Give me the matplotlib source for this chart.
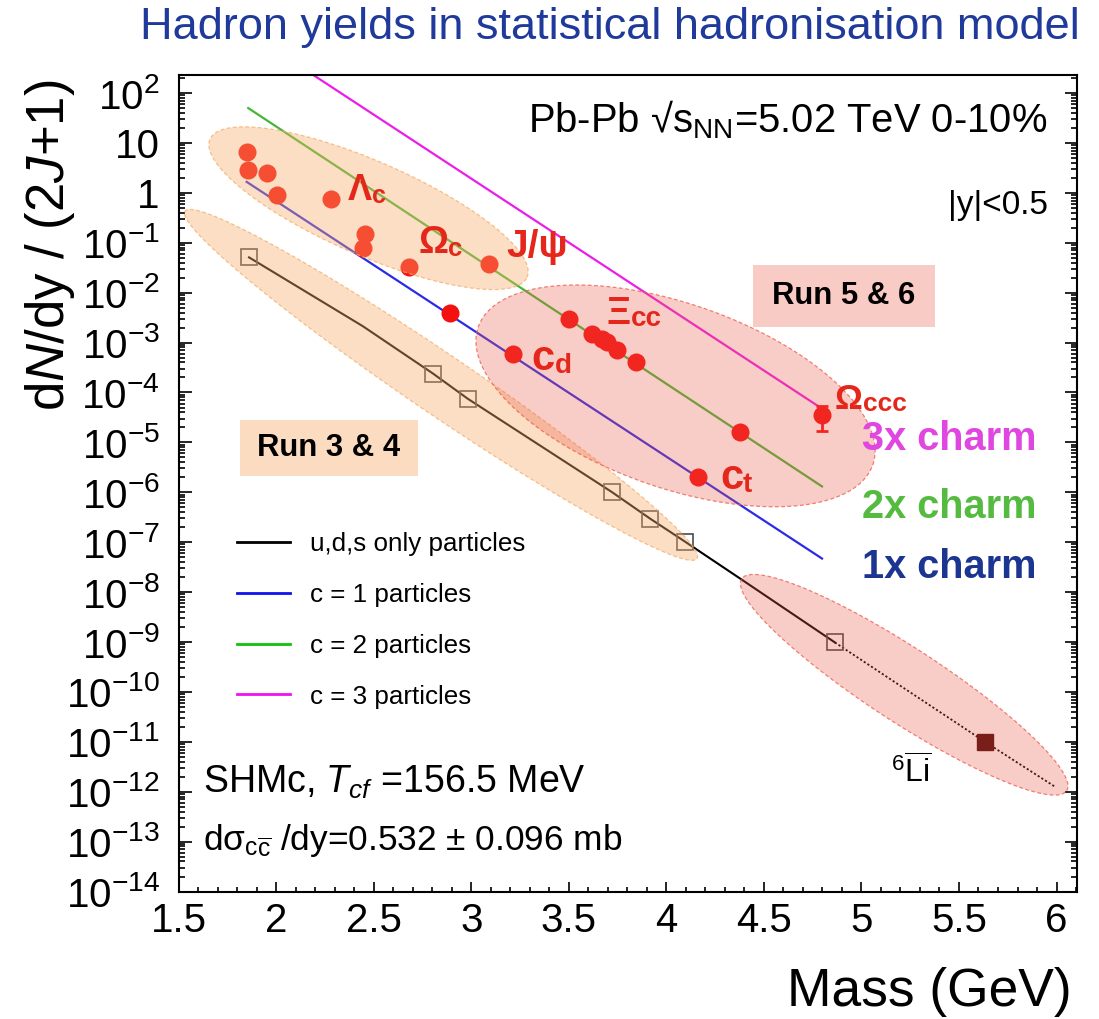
import numpy as np
import matplotlib
matplotlib.use("Agg")
import matplotlib.pyplot as plt
from matplotlib.colors import to_rgba
from matplotlib.lines import Line2D
from matplotlib.patches import Rectangle
from matplotlib.ticker import LogLocator, FixedLocator, MultipleLocator, FuncFormatter, NullFormatter

plt.rcParams["font.family"] = ["Liberation Sans", "DejaVu Sans"]
plt.rcParams["mathtext.fontset"] = "custom"
plt.rcParams["mathtext.rm"] = "Liberation Sans"
plt.rcParams["mathtext.it"] = "Liberation Sans:italic"
plt.rcParams["mathtext.bf"] = "Liberation Sans:bold"

# ── Data: charm hadrons (SHMc, Pb-Pb 5.02 TeV, 0-10%) ─────────────────────────
# dots sitting in the Run 3&4 region
run34_mass  = [1.849, 1.857, 1.955, 2.006, 2.281, 2.457, 2.444, 2.682, 3.093]
run34_yield = [6.6, 2.9, 2.45, 0.90, 0.74, 0.147, 0.079, 0.032, 0.038]
# dots sitting in the Run 5&6 region (and the one in between)
run56_mass  = [2.891, 3.216, 3.503, 3.617, 3.669, 3.694, 3.745, 3.844, 4.164, 4.377]
run56_yield = [3.95e-3, 6.0e-4, 3.0e-3, 1.51e-3, 1.2e-3, 1.03e-3, 7.0e-4, 4.1e-4, 2.07e-6, 1.61e-5]
omega_ccc_mass, omega_ccc_yield, omega_ccc_err = 4.796, 3.5e-5, 1.8e-5

# light-flavour (u,d,s) hadrons and nuclei
uds_mass  = [1.861, 2.805, 2.982, 3.721, 3.916, 4.095, 4.864]
uds_yield = [0.051, 2.38e-4, 7.5e-5, 1.01e-6, 2.98e-7, 1.03e-7, 9.8e-10]
li6_mass, li6_yield = 5.633, 1.0e-11

# model curves
uds_curve_mass  = [1.861, 2.445, 2.805, 2.982, 3.721, 3.916, 4.095, 4.378, 4.864]
uds_curve_yield = [0.051, 2.12e-3, 2.38e-4, 7.5e-5, 1.01e-6, 2.98e-7, 1.03e-7, 1.87e-8, 9.8e-10]
uds_extra_mass  = [4.864, 5.633, 5.992]
uds_extra_yield = [9.8e-10, 1.0e-11, 1.26e-12]
c1_mass, c1_yield = [1.849, 4.798], [1.66, 4.7e-8]
c2_mass, c2_yield = [1.857, 4.798], [50.0, 1.31e-6]
c3_mass, c3_yield = [2.15, 4.796], [292.0, 4.8e-5]

# measurable regions: long-axis tips (mass, yield) and half width in px
regions = [
    ((1.533, 0.43), (4.157, 4.7e-8), 30, "#f5ad69", 0.40),
    ((1.661, 11.9), (3.286, 0.0204), 47, "#f5ad69", 0.40),
    ((3.036, 2.06e-3), (5.058, 3.55e-6), 92, "#ec5a48", 0.30),
    ((4.386, 1.84e-8), (6.052, 1.05e-12), 37, "#ec5a48", 0.30),
]

RED = "#f51010"
LBL = "#e5261a"
BLUE, GREEN, MAGENTA = "#2b2be6", "#44b834", "#ea1ee8"

fig = plt.figure(figsize=(10.99, 10.19), dpi=100)
ax = fig.add_axes([0.1625, 0.1251, 0.8175, 0.8013])
ax.set_yscale("log")
ax.set_xlim(1.5, 6.105)
ax.set_ylim(1e-14, 230)


def blob(ax, tip_a, tip_b, half_w, face, alpha):
    """Shaded ellipse whose long axis joins two (mass, yield) points."""
    pa, pb = ax.transData.transform([tip_a, tip_b])
    c, u = (pa + pb) / 2, (pb - pa) / 2
    n = np.array([-u[1], u[0]]) / np.hypot(*u) * half_w
    t = np.linspace(0, 2 * np.pi, 300)
    ring = c + np.outer(np.cos(t), u) + np.outer(np.sin(t), n)
    m, y = ax.transData.inverted().transform(ring).T
    ax.fill(m, y, facecolor=to_rgba(face, alpha), edgecolor=to_rgba(face, 0.75),
            linestyle=(0, (3, 2)), linewidth=0.9, zorder=4)


def hadron_label(x, y, head, tail, size, tail_size):
    t = ax.text(x, y, head, color=LBL, fontsize=size, fontweight="bold", zorder=6)
    ax.annotate(tail, xy=(1, 0), xycoords=t, color=LBL, fontsize=tail_size,
                fontweight="bold", va="bottom", ha="left", zorder=6)


# curves
ax.plot(uds_curve_mass, uds_curve_yield, color="black", lw=1.5, zorder=2)
ax.plot(uds_extra_mass, uds_extra_yield, color="black", lw=1.3, ls=(0, (1.2, 1.2)), zorder=2)
ax.plot(c1_mass, c1_yield, color=BLUE, lw=1.6, zorder=2)
ax.plot(c2_mass, c2_yield, color=GREEN, lw=1.6, zorder=2)
ax.plot(c3_mass, c3_yield, color=MAGENTA, lw=1.6, zorder=2)

# points
ax.plot(run34_mass, run34_yield, "o", color=RED, ms=13, mec="none", zorder=3)
ax.plot(run56_mass, run56_yield, "o", color=RED, ms=13, mec="none", zorder=3)
ax.errorbar([omega_ccc_mass], [omega_ccc_yield], yerr=[[omega_ccc_err], [omega_ccc_err]],
            fmt="o", color=RED, ms=13, mec="none", elinewidth=2, capsize=4, capthick=2, zorder=3)
ax.plot(uds_mass, uds_yield, "s", ms=12, mfc="none", mec="#4a4a4a", mew=1.2, zorder=3)
ax.plot([li6_mass], [li6_yield], "s", ms=12, color="#4a0505", zorder=3)

for tip_a, tip_b, hw, face, alpha in regions:
    blob(ax, tip_a, tip_b, hw, face, alpha)

# Run boxes
ax.add_patch(Rectangle((0.0683, 0.5089), 0.1982, 0.0686, transform=ax.transAxes,
                       facecolor="#fbdcc1", edgecolor="none", zorder=1))
ax.text(0.1674, 0.5432, "Run 3 & 4", transform=ax.transAxes, ha="center", va="center",
        fontsize=22.4, fontweight="bold", zorder=6)
ax.add_patch(Rectangle((0.6392, 0.6914), 0.2026, 0.0759, transform=ax.transAxes,
                       facecolor="#f9cbc5", edgecolor="none", zorder=1))
ax.text(0.7405, 0.7293, "Run 5 & 6", transform=ax.transAxes, ha="center", va="center",
        fontsize=22.4, fontweight="bold", zorder=6)

# hadron names
hadron_label(2.368, 0.71, "Λ", "c", 26, 18)
hadron_label(2.729, 0.061, "Ω", "c", 27, 18.5)
ax.text(3.182, 0.051, "J/ψ", color=LBL, fontsize=28, fontweight="bold", zorder=6)
hadron_label(3.694, 2.4e-3, "Ξ", "cc", 27, 20)
hadron_label(3.310, 2.77e-4, "c", "d", 30, 20)
hadron_label(4.275, 1.17e-6, "c", "t", 30, 20)
hadron_label(4.864, 4.7e-5, "Ω", "ccc", 25, 19)

# charm multiplicity tags
ax.text(0.7607, 0.5407, "3x charm", transform=ax.transAxes, color="#e046e0",
        fontsize=28.6, fontweight="bold", zorder=6)
ax.text(0.7607, 0.4571, "2x charm", transform=ax.transAxes, color="#55bb40",
        fontsize=28.6, fontweight="bold", zorder=6)
ax.text(0.7607, 0.3836, "1x charm", transform=ax.transAxes, color="#1b3590",
        fontsize=28.6, fontweight="bold", zorder=6)

ax.text(0.389, 0.9302, r"Pb-Pb √s$_\mathregular{NN}$=5.02 TeV 0-10%", transform=ax.transAxes,
        fontsize=28.8, zorder=6)
ax.text(0.8564, 0.8298, "|y|<0.5", transform=ax.transAxes, fontsize=24, zorder=6)
ax.text(0.0272, 0.1206, r"SHMc, $\mathit{T}_{\mathit{cf}}$ =156.5 MeV", transform=ax.transAxes,
        fontsize=27, zorder=6)
ax.text(0.0272, 0.0508, r"dσ$_{\mathregular{c}\overline{\mathregular{c}}}$ /dy=0.532 ± 0.096 mb",
        transform=ax.transAxes, fontsize=25.4, zorder=6)
ax.text(0.7935, 0.1329, r"$^{6}\overline{\mathregular{Li}}$", transform=ax.transAxes,
        fontsize=23, zorder=6)

# legend
handles = [Line2D([], [], color="black", lw=2), Line2D([], [], color="#1010f0", lw=2),
           Line2D([], [], color="#10c010", lw=2), Line2D([], [], color="#f010f0", lw=2)]
labels = ["u,d,s only particles", "c = 1 particles", "c = 2 particles", "c = 3 particles"]
ax.legend(handles, labels, loc="upper left", bbox_to_anchor=(0.065, 0.440), frameon=False,
          fontsize=18.7, handlelength=2.05, handletextpad=0.75, labelspacing=1.03,
          borderpad=0, borderaxespad=0)

# axes styling
ax.xaxis.set_major_locator(MultipleLocator(0.5))
ax.xaxis.set_minor_locator(MultipleLocator(0.1))
ax.xaxis.set_major_formatter(FuncFormatter(lambda v, p: f"{v:g}"))
ax.yaxis.set_major_locator(FixedLocator([10.0 ** e for e in range(-14, 3)]))
ax.yaxis.set_minor_locator(LogLocator(base=10, subs=np.arange(2, 10), numticks=100))
ax.yaxis.set_minor_formatter(NullFormatter())


def decade(v, pos):
    e = int(round(np.log10(v)))
    if e == 0:
        return "1"
    if e == 1:
        return "10"
    return r"$\mathregular{10^{%d}}$" % e


ax.yaxis.set_major_formatter(FuncFormatter(decade))
ax.tick_params(axis="both", which="both", direction="in", width=1.2, labelsize=29)
ax.tick_params(axis="y", which="both", right=True)
ax.tick_params(axis="y", which="major", length=9, pad=13.5)
ax.tick_params(axis="y", which="minor", length=4.5)
ax.tick_params(axis="x", which="major", length=7, pad=7.5)
ax.tick_params(axis="x", which="minor", length=3.5)
for s in ax.spines.values():
    s.set_linewidth(1.5)

fig.text(50 / 1099, 1 - 80 / 1019, r"d$\mathit{N}$/dy / (2$\mathit{J}$+1)", rotation=90,
         ha="center", va="top", fontsize=38)
fig.text(1072 / 1099, 1 - 1006 / 1019, "Mass (GeV)", ha="right", va="baseline", fontsize=38.4)
fig.text(1080 / 1099, 1 - 39 / 1019, "Hadron yields in statistical hadronisation model",
         ha="right", va="baseline", fontsize=32.5, color="#1f3a9a")

fig.savefig("out.png", dpi=100)
